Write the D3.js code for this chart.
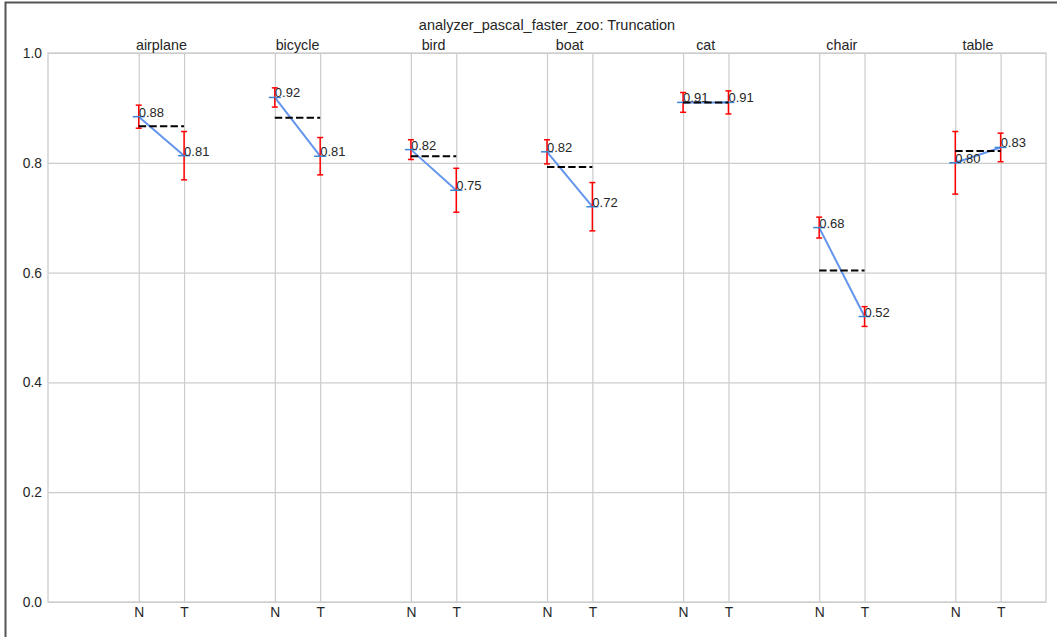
<!DOCTYPE html>
<html>
<head>
<meta charset="utf-8">
<script src="https://cdn.jsdelivr.net/npm/d3@7"></script>
<style>
  html, body { margin: 0; padding: 0; background: #fff; }
  svg { display: block; font-family: "Liberation Sans", Arial, Helvetica, sans-serif; }
</style>
</head>
<body>
<svg id="chart" width="1057" height="637"></svg>
<script>
// Per-category scores for the normal (N) and truncated (T) subsets
const categories = ["airplane", "bicycle", "bird", "boat", "cat", "chair", "table"];
const normalValues = [0.884, 0.919, 0.824, 0.820, 0.910, 0.682, 0.800];
const truncValues  = [0.813, 0.812, 0.750, 0.720, 0.910, 0.520, 0.828];
// Standard-error half widths
const normalErr = [0.021, 0.0175, 0.018, 0.022, 0.018, 0.019, 0.057];
const truncErr  = [0.044, 0.034, 0.040, 0.044, 0.021, 0.018, 0.026];
// Overall average per category (dashed reference)
const overallValues = [0.8665, 0.882, 0.8118, 0.7923, 0.910, 0.604, 0.8215];
const subsetLabels = ["N", "T"];
const yTicks = [0.0, 0.2, 0.4, 0.6, 0.8, 1.0];
const title = "analyzer_pascal_faster_zoo: Truncation";

const svg = d3.select("#chart");
const W = 1057, H = 637;
const margin = { left: 48, right: 11, top: 53, bottom: 35 };
const x0 = margin.left, x1 = W - margin.right, y0 = margin.top, y1 = H - margin.bottom;
const font = "Liberation Sans, Arial, sans-serif";

// Figure frame
svg.append("rect")
  .attr("x", 5.5).attr("y", 2.5)
  .attr("width", W + 10).attr("height", H + 10)
  .attr("fill", "none").attr("stroke", "#555").attr("stroke-width", 2);

// Each category occupies three x units: N, T, gap
const xPos = (i, k) => 3 * i + 1 + k;
const x = d3.scaleLinear().domain([-1, 3 * categories.length]).range([x0, x1]);
const y = d3.scaleLinear().domain([0, 1]).range([y1, y0]);

const gridColor = "#cccccc";
const g = svg.append("g");

// Horizontal grid
const yAxis = d3.axisLeft(y).tickValues(yTicks).tickFormat(d3.format(".1f"))
  .tickSize(-(x1 - x0)).tickPadding(6);
const yg = g.append("g").attr("transform", `translate(${x0},0)`).call(yAxis);
yg.select(".domain").remove();
yg.selectAll(".tick line").attr("stroke", gridColor).attr("stroke-width", 1.2);
yg.selectAll(".tick text").attr("fill", "#262626").attr("font-size", "13.8px")
  .attr("font-family", font);

// Vertical grid and subset tick labels
const xTickVals = [];
categories.forEach((c, i) => subsetLabels.forEach((s, k) => xTickVals.push(xPos(i, k))));
const xAxis = d3.axisBottom(x).tickValues(xTickVals)
  .tickFormat(d => subsetLabels[(d - 1) % 3])
  .tickSize(-(y1 - y0)).tickPadding(5);
const xg = g.append("g").attr("transform", `translate(0,${y1})`).call(xAxis);
xg.select(".domain").remove();
xg.selectAll(".tick line").attr("stroke", gridColor).attr("stroke-width", 1.2);
xg.selectAll(".tick text").attr("fill", "#262626").attr("font-size", "13.8px")
  .attr("font-family", font);

// Axes frame
g.append("rect")
  .attr("x", x0).attr("y", y0).attr("width", x1 - x0).attr("height", y1 - y0)
  .attr("fill", "none").attr("stroke", gridColor).attr("stroke-width", 1.3);

// Title and category headers
svg.append("text").attr("x", (x0 + x1) / 2).attr("y", 30)
  .attr("text-anchor", "middle").attr("font-size", "14.5px").attr("fill", "#262626")
  .text(title);
svg.selectAll("text.cat").data(categories).join("text")
  .attr("class", "cat")
  .attr("x", (d, i) => (x(xPos(i, 0)) + x(xPos(i, 1))) / 2)
  .attr("y", 49.5)
  .attr("text-anchor", "middle").attr("font-size", "14.3px").attr("fill", "#262626")
  .text(d => d);

const rows = categories.map((c, i) => ({
  i, c,
  vals: [normalValues[i], truncValues[i]],
  errs: [normalErr[i], truncErr[i]],
  overall: overallValues[i]
}));

// Connecting line between N and T
const marks = svg.append("g");
marks.selectAll("line.conn").data(rows).join("line")
  .attr("class", "conn")
  .attr("x1", d => x(xPos(d.i, 0))).attr("y1", d => y(d.vals[0]))
  .attr("x2", d => x(xPos(d.i, 1))).attr("y2", d => y(d.vals[1]))
  .attr("stroke", "#6495ED").attr("stroke-width", 2);

const points = rows.flatMap(d => [0, 1].map(k => ({
  px: x(xPos(d.i, k)), v: d.vals[k], e: d.errs[k]
})));

// Error bars
const eb = marks.selectAll("g.err").data(points).join("g").attr("class", "err")
  .attr("stroke", "#ff0000").attr("stroke-width", 1.5);
eb.append("line").attr("x1", d => d.px).attr("x2", d => d.px)
  .attr("y1", d => y(d.v - d.e)).attr("y2", d => y(d.v + d.e));
eb.append("line").attr("x1", d => d.px - 3).attr("x2", d => d.px + 3)
  .attr("y1", d => y(d.v - d.e)).attr("y2", d => y(d.v - d.e));
eb.append("line").attr("x1", d => d.px - 3).attr("x2", d => d.px + 3)
  .attr("y1", d => y(d.v + d.e)).attr("y2", d => y(d.v + d.e));

// Point markers
marks.selectAll("line.pt").data(points).join("line").attr("class", "pt")
  .attr("x1", d => d.px - 6).attr("x2", d => d.px + 6)
  .attr("y1", d => y(d.v)).attr("y2", d => y(d.v))
  .attr("stroke", "#3a86d4").attr("stroke-width", 1.5);

// Overall average, dashed
marks.selectAll("line.avg").data(rows).join("line").attr("class", "avg")
  .attr("x1", d => x(xPos(d.i, 0))).attr("x2", d => x(xPos(d.i, 1)))
  .attr("y1", d => y(d.overall)).attr("y2", d => y(d.overall))
  .attr("stroke", "#000").attr("stroke-width", 2).attr("stroke-dasharray", "7.4,3.2");

// Value labels
marks.selectAll("text.val").data(points).join("text").attr("class", "val")
  .attr("x", d => d.px).attr("y", d => y(d.v))
  .attr("font-size", "13px").attr("fill", "#262626")
  .text(d => d.v.toFixed(2));
</script>
</body>
</html>
